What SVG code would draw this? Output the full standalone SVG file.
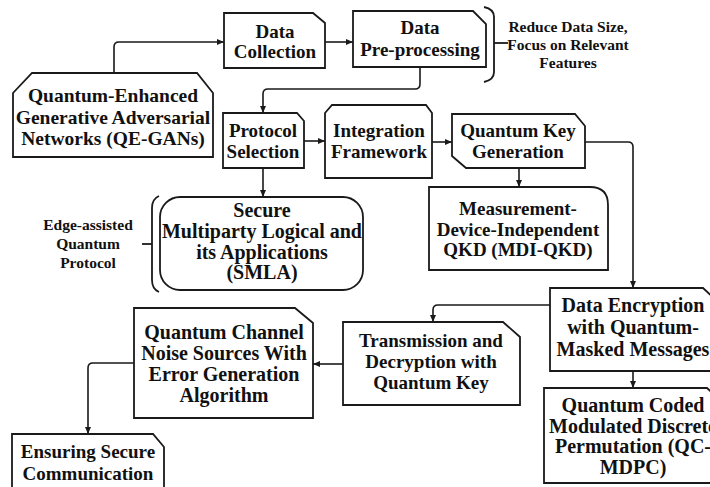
<svg xmlns="http://www.w3.org/2000/svg" width="710" height="487" viewBox="0 0 710 487">
  <style>
    .box { fill: #ffffff; stroke: #1a1a1a; stroke-width: 1.8; stroke-linejoin: miter; }
    .lbl { font-weight: bold; font-size: 19px; fill: #111111; text-anchor: middle; }
    .lg { font-size: 20px; }
    .xl { font-size: 19.5px; }
    .side { font-weight: bold; font-size: 15.5px; fill: #111111; text-anchor: middle; }
    .wire { fill: none; stroke: #1a1a1a; stroke-width: 1.6; }
    .brace { fill: none; stroke: #1a1a1a; stroke-width: 1.8; }
  </style>
  <defs>
    <marker id="arrow" markerUnits="userSpaceOnUse" markerWidth="8" markerHeight="8" refX="7" refY="4" orient="auto">
      <path d="M0,1 L7,4 L0,7 Z" fill="#1a1a1a"/>
    </marker>
  </defs>
  <rect width="710" height="487" fill="#ffffff"/>

  <!-- connectors -->
  <g id="connectors">
    <path class="wire" d="M114,73 V47 Q114,42 119,42 H224" marker-end="url(#arrow)"/>
    <path class="wire" d="M325,42 H353" marker-end="url(#arrow)"/>
    <path class="wire" d="M420,67 V84 Q420,89 415,89 H268 Q263,89 263,94 V113" marker-end="url(#arrow)"/>
    <path class="wire" d="M304,141 H325" marker-end="url(#arrow)"/>
    <path class="wire" d="M432,142 H452" marker-end="url(#arrow)"/>
    <path class="wire" d="M519,168 V187" marker-end="url(#arrow)"/>
    <path class="wire" d="M263,168 V197" marker-end="url(#arrow)"/>
    <path class="wire" d="M585,142 H628 Q633,142 633,147 V288" marker-end="url(#arrow)"/>
    <path class="wire" d="M633,371 V388" marker-end="url(#arrow)"/>
    <path class="wire" d="M550,305 H438 Q433,305 433,310 V322" marker-end="url(#arrow)"/>
    <path class="wire" d="M343,364 H313" marker-end="url(#arrow)"/>
    <path class="wire" d="M134,363 H93 Q88,363 88,368 V434" marker-end="url(#arrow)"/>
  </g>

  <!-- nodes; all labels in a Times-metric serif -->
  <g id="nodes" font-family="'Liberation Serif', 'Times New Roman', Times, 'DejaVu Serif', serif">
  <g id="qe-gans">
    <path class="box" d="M32,73 H197 L213,93 V157 H13 V93 Z"/>
    <text class="lbl xl" x="113" y="102"><tspan x="113">Quantum-Enhanced</tspan><tspan x="113" dy="21.5">Generative Adversarial</tspan><tspan x="113" dy="21.5">Networks (QE-GANs)</tspan></text>
  </g>

  <g id="data-collection">
    <path class="box" d="M224,13 H313 L325,23 V68 H224 Z"/>
    <text class="lbl" x="275" y="38"><tspan x="275">Data</tspan><tspan x="275" dy="20">Collection</tspan></text>
  </g>

  <g id="data-preprocessing">
    <path class="box" d="M353,11 H473 L486,24 V67 H353 Z"/>
    <text class="lbl" x="420" y="34"><tspan x="420">Data</tspan><tspan x="420" dy="22">Pre-processing</tspan></text>
  </g>

  <g id="preprocessing-note">
    <path class="brace" d="M484,7 Q494,9 494,17 V72 Q494,80 484,82"/>
    <path class="brace" d="M494,43 H508"/>
    <text class="side" x="568" y="32"><tspan x="568">Reduce Data Size,</tspan><tspan x="568" dy="18">Focus on Relevant</tspan><tspan x="568" dy="18">Features</tspan></text>
  </g>

  <g id="protocol-selection">
    <path class="box" d="M223,113 H297 L304,121 V168 H223 Z"/>
    <text class="lbl" x="263" y="137"><tspan x="263">Protocol</tspan><tspan x="263" dy="21">Selection</tspan></text>
  </g>

  <g id="integration-framework">
    <path class="box" d="M332,105 H426 L432,113 V178 H325 V113 Z"/>
    <text class="lbl" x="379" y="137"><tspan x="379">Integration</tspan><tspan x="379" dy="21">Framework</tspan></text>
  </g>

  <g id="quantum-key-generation">
    <path class="box" d="M452,114 H575 L585,126 V168 H466 L452,156 Z"/>
    <text class="lbl" x="518" y="137"><tspan x="518">Quantum Key</tspan><tspan x="518" dy="21">Generation</tspan></text>
  </g>

  <g id="mdi-qkd">
    <path class="box" d="M429,187 H590 Q608,187 608,205 V270 H429 Z"/>
    <text class="lbl" x="518" y="215"><tspan x="518">Measurement-</tspan><tspan x="518" dy="20.5">Device-Independent</tspan><tspan x="518" dy="20.5">QKD (MDI-QKD)</tspan></text>
  </g>

  <g id="smla">
    <rect class="box" x="160" y="197" width="203" height="93" rx="20" ry="20"/>
    <text class="lbl lg" x="262" y="217"><tspan x="262">Secure</tspan><tspan x="262" dy="21">Multiparty Logical and</tspan><tspan x="262" dy="21">its Applications</tspan><tspan x="262" dy="20">(SMLA)</tspan></text>
  </g>

  <g id="smla-note">
    <path class="brace" d="M159,196 Q152,199 152,208 V280 Q152,289 159,292"/>
    <path class="brace" d="M142,244 H152"/>
    <text class="side" x="88" y="230"><tspan x="88">Edge-assisted</tspan><tspan x="88" dy="19">Quantum</tspan><tspan x="88" dy="19">Protocol</tspan></text>
  </g>

  <g id="data-encryption">
    <path class="box" d="M550,288 H703 L716,300 V371 H550 Z"/>
    <text class="lbl lg" x="633" y="312"><tspan x="633">Data Encryption</tspan><tspan x="633" dy="22">with Quantum-</tspan><tspan x="633" dy="22">Masked Messages</tspan></text>
  </g>

  <g id="qc-mdpc">
    <path class="box" d="M544,388 H707 L720,400 V483 H544 Z"/>
    <text class="lbl lg" x="633" y="412"><tspan x="633">Quantum Coded</tspan><tspan x="633" dy="20.7">Modulated Discrete</tspan><tspan x="633" dy="20.7">Permutation (QC-</tspan><tspan x="633" dy="20.7">MDPC)</tspan></text>
  </g>

  <g id="transmission">
    <path class="box" d="M343,322 H503 L520,337 V405 H343 Z"/>
    <text class="lbl" x="431" y="347"><tspan x="431">Transmission and</tspan><tspan x="431" dy="21">Decryption with</tspan><tspan x="431" dy="21">Quantum Key</tspan></text>
  </g>

  <g id="quantum-channel">
    <path class="box" d="M134,308 H295 L313,323 V418 H134 Z"/>
    <text class="lbl lg" x="224" y="339"><tspan x="224">Quantum Channel</tspan><tspan x="224" dy="21">Noise Sources With</tspan><tspan x="224" dy="21">Error Generation</tspan><tspan x="224" dy="21">Algorithm</tspan></text>
  </g>

  <g id="ensuring-secure">
    <path class="box" d="M12,434 H153 L164,447 V495 H12 Z"/>
    <text class="lbl" x="88" y="458"><tspan x="88">Ensuring Secure</tspan><tspan x="88" dy="22">Communication</tspan></text>
  </g>
  </g>
</svg>
